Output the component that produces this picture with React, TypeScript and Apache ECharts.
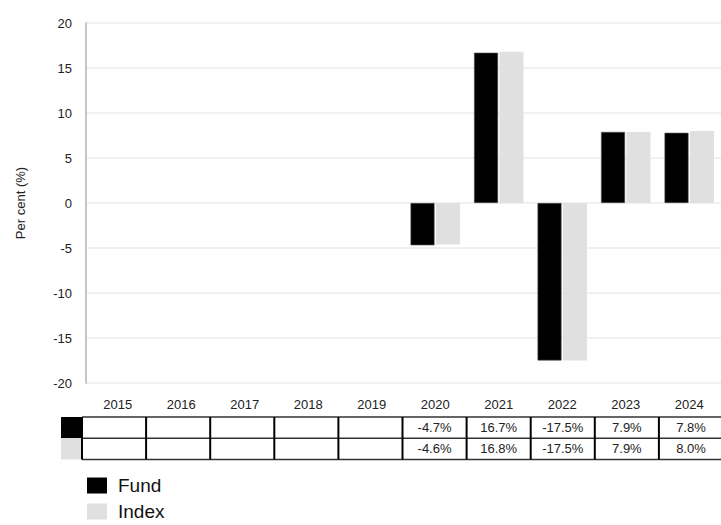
import React, { useEffect, useRef } from "react";
import * as echarts from "echarts";

const years = ["2015", "2016", "2017", "2018", "2019", "2020", "2021", "2022", "2023", "2024"];
const fundValues: (number | null)[] = [null, null, null, null, null, -4.7, 16.7, -17.5, 7.9, 7.8];
const indexValues: (number | null)[] = [null, null, null, null, null, -4.6, 16.8, -17.5, 7.9, 8.0];
const seriesNames = ["Fund", "Index"];
const seriesColors = ["#000000", "#e0e0e0"];
const yMin = -20;
const yMax = 20;
const yInterval = 5;
const yAxisName = "Per cent (%)";

const FONT = "'Liberation Sans', Arial, Helvetica, sans-serif";

// table layout
const TABLE_LEFT = 82;
const COL_W = 64.1;
const ROW_TOP = 417;
const ROW_H = 21.2;
const SWATCH_LEFT = 61;

function fmt(v: number | null): string {
  return v === null ? "" : v.toFixed(1) + "%";
}

export default function App() {
  const ref = useRef<HTMLDivElement>(null);

  useEffect(() => {
    if (!ref.current) return;
    const chart = echarts.init(ref.current, undefined, { renderer: "svg" });

    const rows = [fundValues, indexValues];
    const graphics: any[] = [];
    const tableBottom = ROW_TOP + rows.length * ROW_H;
    // swatches
    rows.forEach((_, r) => {
      graphics.push({
        type: "rect",
        shape: { x: SWATCH_LEFT, y: ROW_TOP + r * ROW_H, width: TABLE_LEFT - SWATCH_LEFT, height: ROW_H },
        style: { fill: seriesColors[r] },
      });
    });
    // horizontal lines
    for (let r = 0; r <= rows.length; r++) {
      graphics.push({
        type: "line",
        shape: { x1: TABLE_LEFT, y1: ROW_TOP + r * ROW_H, x2: 725, y2: ROW_TOP + r * ROW_H },
        style: { stroke: "#333", lineWidth: 1.5 },
      });
    }
    // vertical lines
    for (let i = 0; i <= years.length; i++) {
      graphics.push({
        type: "line",
        shape: { x1: TABLE_LEFT + i * COL_W, y1: ROW_TOP, x2: TABLE_LEFT + i * COL_W, y2: tableBottom },
        style: { stroke: "#000", lineWidth: 2 },
      });
    }
    // cell texts
    rows.forEach((vals, r) => {
      vals.forEach((v, i) => {
        if (v === null) return;
        graphics.push({
          type: "text",
          x: TABLE_LEFT + (i + 0.5) * COL_W,
          y: ROW_TOP + (r + 0.5) * ROW_H,
          style: {
            text: fmt(v),
            fill: "#222",
            font: `13px ${FONT}`,
            align: "center",
            verticalAlign: "middle",
          },
        });
      });
    });

    chart.setOption({
      animation: false,
      textStyle: { fontFamily: FONT },
      grid: { left: 86, top: 23, width: 637, height: 360, containLabel: false },
      legend: {
        orient: "vertical",
        left: 87,
        top: 476,
        icon: "rect",
        itemWidth: 20,
        itemHeight: 16,
        itemGap: 7,
        padding: 0,
        selectedMode: false,
        textStyle: { fontSize: 19, color: "#111", fontFamily: FONT, padding: [0, 0, 0, 6] },
        itemStyle: { borderWidth: 0 },
        data: seriesNames,
      },
      xAxis: {
        type: "category",
        data: years,
        axisLine: { show: false },
        axisTick: { show: false },
        axisLabel: { color: "#222", fontSize: 13, margin: 15, fontFamily: FONT },
      },
      yAxis: {
        type: "value",
        min: yMin,
        max: yMax,
        interval: yInterval,
        name: yAxisName,
        nameLocation: "middle",
        nameGap: 59,
        nameTextStyle: { color: "#222", fontSize: 13, fontFamily: FONT },
        axisLine: { show: true, lineStyle: { color: "#b3b3b3", width: 1.5 } },
        axisTick: { show: false },
        axisLabel: { color: "#222", fontSize: 13, margin: 14, fontFamily: FONT },
        splitLine: { show: true, lineStyle: { color: "#ececec", width: 1.5 } },
      },
      series: [
        {
          name: seriesNames[0],
          type: "bar",
          data: fundValues,
          barWidth: 24,
          barGap: "6%",
          itemStyle: { color: seriesColors[0], borderColor: "#555", borderWidth: 0.6 },
        },
        {
          name: seriesNames[1],
          type: "bar",
          data: indexValues,
          barWidth: 24,
          barGap: "6%",
          itemStyle: { color: seriesColors[1] },
        },
      ],
      graphic: graphics,
    });

    return () => {
      chart.dispose();
    };
  }, []);

  return (
    <div
      ref={ref}
      style={{ position: "fixed", left: 0, top: 0, width: 721, height: 525, background: "#fff" }}
    />
  );
}
